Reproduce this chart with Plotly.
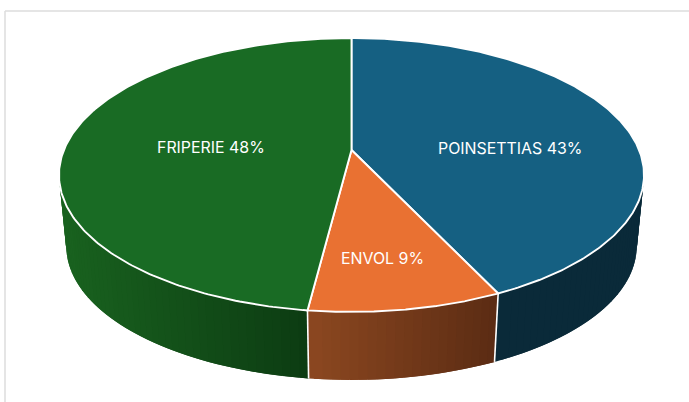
import numpy as np
import plotly.graph_objects as go

# --- data ---
categories = ["POINSETTIAS", "ENVOL", "FRIPERIE"]
values = [43, 9, 48]

# --- style ---
top_colors = ["#156082", "#E97132", "#196B24"]
side_left = ["#0A2A39", "#8B4720", "#19621F"]
side_right = ["#0A2A39", "#5A2B13", "#0C3B12"]
label_pos = [(510, 148), (382, 258), (211, 147)]

CX, CY, CY2 = 351.5, 150.0, 222.0
A, B, K, S = 287.6, 132.4, 0.1825, 0.975
VIS_FROM, VIS_TO = 68.0, 292.0
STEP = 1.5


def project(deg, lower=False):
    t = np.radians(deg)
    X, Y = np.sin(t), np.cos(t)
    w = 1 + K * Y
    if lower:
        return CX + S * A * X / w, CY2 - S * B * Y / w
    return CX + A * X / w, CY - B * Y / w


def hexrgb(c):
    return np.array([int(c[i:i + 2], 16) for i in (1, 3, 5)], float)


total = sum(values)
edges = np.cumsum([0] + values) * 360.0 / total
fig = go.Figure()

# side walls: every band overlaps the one painted before it, so no seams show
for i in range(len(values)):
    a0, a1 = max(edges[i], VIS_FROM), min(edges[i + 1], VIS_TO)
    if a1 <= a0:
        continue
    angs = np.arange(a0, a1, STEP)
    x_all = project(np.r_[angs, a1])[0]
    lo, hi = x_all.min(), x_all.max()
    c0, c1 = hexrgb(side_left[i]), hexrgb(side_right[i])
    for u in angs:
        v0, v1 = max(a0, u - STEP), min(a1, u + STEP)
        arc = np.array([v0, v1])
        tx, ty = project(arc)
        bx, by = project(arc, lower=True)
        f = (project(u)[0] - lo) / (hi - lo)
        r, g, b = c0 + (c1 - c0) * f
        col = f"rgb({r:.0f},{g:.0f},{b:.0f})"
        fig.add_trace(go.Scatter(
            x=[tx[0], tx[1], bx[1], bx[0], tx[0]],
            y=[ty[0], ty[1], by[1], by[0], ty[0]],
            mode="lines", fill="toself", fillcolor=col,
            line=dict(width=0),
            hoverinfo="skip", showlegend=False))

# white dividers on the wall
for e in edges:
    if VIS_FROM < e < VIS_TO:
        tx, ty = project(e)
        bx, by = project(e, lower=True)
        fig.add_trace(go.Scatter(x=[tx, bx], y=[ty, by], mode="lines",
                                 line=dict(color="white", width=1.6),
                                 hoverinfo="skip", showlegend=False))

# top face
for i in range(len(values)):
    angs = np.linspace(edges[i], edges[i + 1], 240)
    px, py = project(angs)
    fig.add_trace(go.Scatter(
        x=np.r_[CX, px, CX], y=np.r_[CY, py, CY],
        mode="lines", fill="toself", fillcolor=top_colors[i],
        line=dict(color="white", width=1.9),
        name=categories[i], hoverinfo="skip", showlegend=False))

annotations = [
    dict(x=p[0], y=p[1], xref="x", yref="y", showarrow=False,
         text=f"{c} {v}%", font=dict(family="Inter", size=15.9, color="white"))
    for c, v, p in zip(categories, values, label_pos)
]

fig.update_layout(
    width=689, height=402, margin=dict(l=0, r=0, t=0, b=0),
    paper_bgcolor="white", plot_bgcolor="white",
    xaxis=dict(range=[0, 689], visible=False, fixedrange=True),
    yaxis=dict(range=[402, 0], visible=False, fixedrange=True),
    annotations=annotations,
    shapes=[
        dict(type="line", x0=5, x1=689, y0=11, y1=11, line=dict(color="#DCDCDC", width=1.5)),
        dict(type="line", x0=5, x1=5, y0=11, y1=402, line=dict(color="#DCDCDC", width=1.5)),
    ],
)
fig.write_html("out.html", config={"displayModeBar": False},
               post_script="document.body.style.margin='0';")
